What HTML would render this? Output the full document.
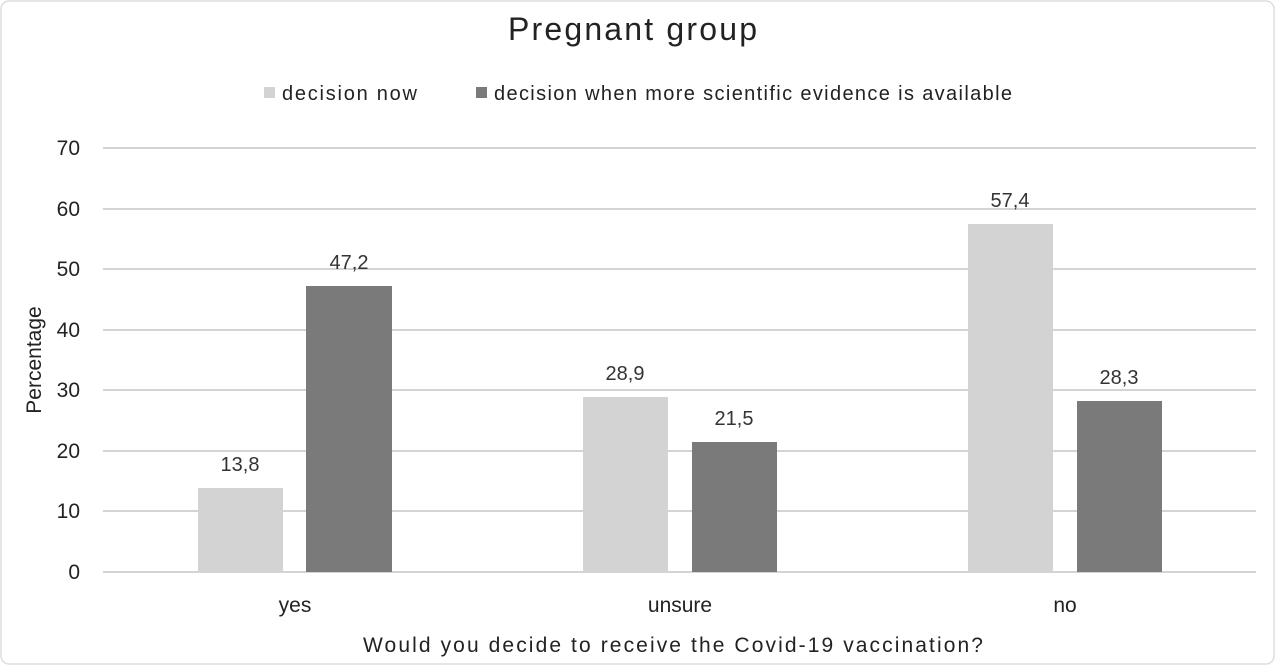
<!DOCTYPE html>
<html><head><style>body{margin:0;background:#fff}svg{display:block}</style></head>
<body>
<svg width="1276" height="666" viewBox="0 0 1276 666" xmlns="http://www.w3.org/2000/svg" font-family="Liberation Sans, sans-serif">
<rect x="1" y="1" width="1273" height="663" rx="8" fill="#fff" stroke="#ddd" stroke-width="1.5"/>
<text x="508" y="40" font-size="32" fill="#222" textLength="249">Pregnant group</text>
<rect x="264" y="87" width="11" height="11" fill="#d3d3d3"/>
<text x="282" y="100" font-size="20" fill="#222" textLength="135">decision now</text>
<rect x="476" y="87" width="11" height="11" fill="#7a7a7a"/>
<text x="494" y="100" font-size="20" fill="#222" textLength="518">decision when more scientific evidence is available</text>
<g stroke="#d4d4d4" stroke-width="2">
<line x1="103" x2="1256" y1="148" y2="148"/><line x1="103" x2="1256" y1="209" y2="209"/>
<line x1="103" x2="1256" y1="269" y2="269"/><line x1="103" x2="1256" y1="330" y2="330"/>
<line x1="103" x2="1256" y1="390" y2="390"/><line x1="103" x2="1256" y1="451" y2="451"/>
<line x1="103" x2="1256" y1="511" y2="511"/><line x1="103" x2="1256" y1="572" y2="572"/>
</g>
<g font-size="21" fill="#222" text-anchor="end">
<text x="80" y="155">70</text><text x="80" y="216">60</text><text x="80" y="276">50</text>
<text x="80" y="337">40</text><text x="80" y="397">30</text><text x="80" y="458">20</text>
<text x="80" y="518">10</text><text x="80" y="579">0</text>
</g>
<g fill="#d3d3d3">
<rect x="198" y="488" width="85" height="84"/><rect x="583" y="397" width="85" height="175"/><rect x="968" y="224" width="85" height="348"/>
</g>
<g fill="#7a7a7a">
<rect x="306" y="286" width="86" height="286"/><rect x="692" y="442" width="85" height="130"/><rect x="1077" y="401" width="85" height="171"/>
</g>
<g font-size="20" fill="#333" text-anchor="middle">
<text x="240" y="471">13,8</text><text x="349" y="269">47,2</text>
<text x="625" y="380">28,9</text><text x="734" y="425">21,5</text>
<text x="1010" y="207">57,4</text><text x="1119" y="384">28,3</text>
</g>
<g font-size="21" fill="#222" text-anchor="middle">
<text x="295" y="612">yes</text><text x="680" y="612">unsure</text><text x="1065" y="612">no</text>
</g>
<text x="363" y="652" font-size="21" fill="#222" textLength="620">Would you decide to receive the Covid-19 vaccination?</text>
<text transform="translate(41 360) rotate(-90)" font-size="21" fill="#222" text-anchor="middle">Percentage</text>
</svg>
</body></html>
